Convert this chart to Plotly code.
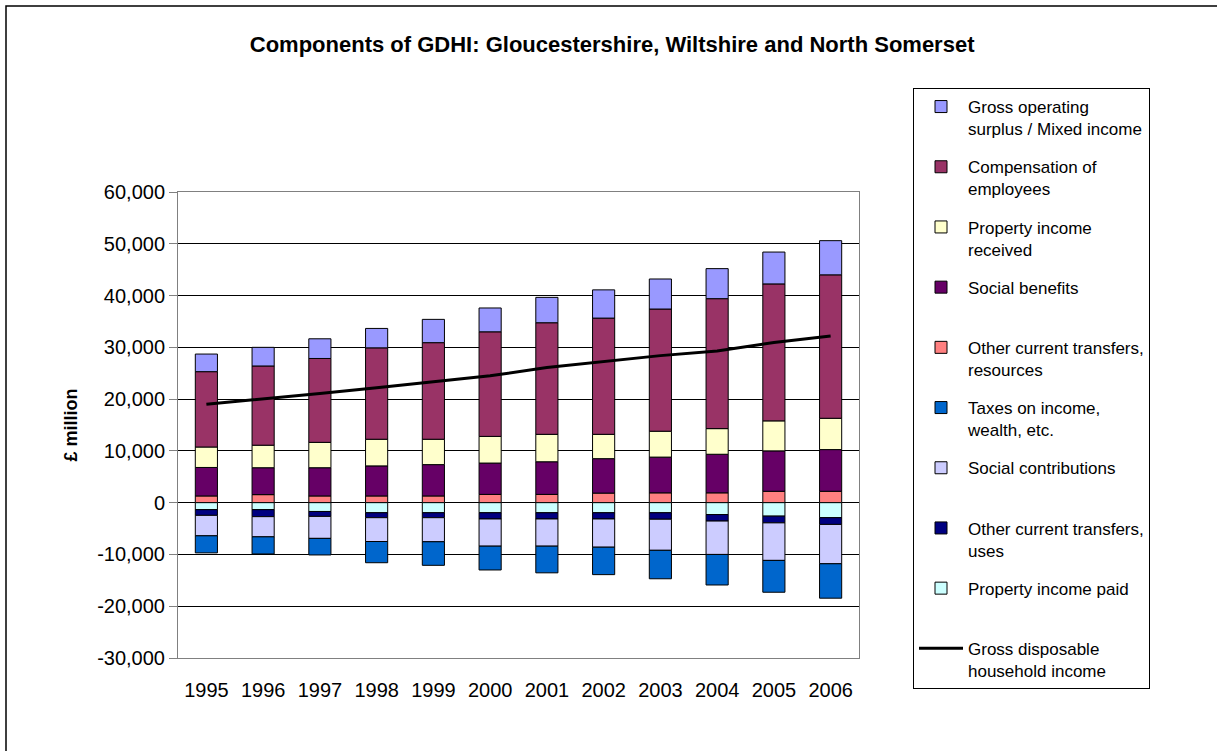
import plotly.graph_objects as go

years = [str(y) for y in range(1995, 2007)]

# resources (stacked upwards from zero)
other_transfers_res = [1300, 1550, 1300, 1300, 1300, 1600, 1600, 1850, 1900, 1900, 2200, 2200]
social_benefits = [5500, 5200, 5450, 5800, 6050, 6050, 6300, 6650, 6900, 7450, 7800, 8050]
property_income_rec = [3950, 4350, 4900, 5150, 4900, 5150, 5300, 4700, 5000, 4950, 5800, 6050]
compensation = [14550, 15300, 16200, 17650, 18650, 20200, 21550, 22450, 23600, 25100, 26450, 27700]
gross_operating = [3400, 3600, 3800, 3750, 4500, 4600, 4900, 5450, 5800, 5800, 6150, 6600]

# uses (stacked downwards from zero)
property_income_paid = [-1350, -1350, -1700, -1950, -1950, -1950, -1950, -1950, -1950, -2300, -2600, -2900]
other_transfers_uses = [-1100, -1350, -950, -950, -950, -1200, -1200, -1200, -1250, -1250, -1300, -1300]
social_contributions = [-3950, -3900, -4250, -4600, -4650, -5250, -5250, -5450, -6000, -6450, -7250, -7600]
taxes = [-3300, -3300, -3200, -4100, -4550, -4600, -5150, -5300, -5500, -5900, -6150, -6650]

gdhi = [19000, 20000, 21100, 22200, 23300, 24500, 26100, 27300, 28400, 29300, 30950, 32200]

y_ticks = list(range(-30000, 60001, 10000))

FONT = "Liberation Sans, Arial, sans-serif"

# (name, values, colour, legend rank) in stacking order
bar_series = [
    ("Other current transfers,<br>resources", other_transfers_res, "#FF8080", 5),
    ("Social benefits<br>&nbsp;", social_benefits, "#660066", 4),
    ("Property income<br>received", property_income_rec, "#FFFFCC", 3),
    ("Compensation of<br>employees", compensation, "#993366", 2),
    ("Gross operating<br>surplus / Mixed income", gross_operating, "#9999FF", 1),
    ("Property income paid<br>&nbsp;", property_income_paid, "#CCFFFF", 9),
    ("Other current transfers,<br>uses", other_transfers_uses, "#000080", 8),
    ("Social contributions<br>&nbsp;", social_contributions, "#CCCCFF", 7),
    ("Taxes on income,<br>wealth, etc.", taxes, "#0066CC", 6),
]

fig = go.Figure()
for name, vals, col, rank in bar_series:
    fig.add_trace(go.Bar(
        x=years, y=vals, name=name,
        marker=dict(color=col, line=dict(color="black", width=1)),
        legendrank=rank, legendgroup=name,
    ))

fig.add_trace(go.Scatter(
    x=years, y=gdhi, mode="lines", name="Gross disposable<br>household income",
    line=dict(color="black", width=3), legendrank=10, legendgroup="gdhi",
))

fig.update_layout(
    width=1217, height=751,
    margin=dict(l=178, r=358, t=192, b=93),
    paper_bgcolor="white", plot_bgcolor="white",
    font=dict(family=FONT, color="black", size=18),
    barmode="relative", bargap=0.61,
    title=dict(
        text="<b>Components of GDHI: Gloucestershire, Wiltshire and North Somerset</b>",
        x=0.503, xref="container", xanchor="center",
        y=1 - 44 / 751, yref="container", yanchor="middle",
        font=dict(size=22),
    ),
    xaxis=dict(
        type="category", showgrid=False, showline=True,
        linecolor="#808080", linewidth=1, mirror=True,
        ticks="outside", ticklen=14, tickcolor="rgba(0,0,0,0)",
        tickfont=dict(size=20),
    ),
    xaxis2=dict(
        type="category", overlaying="x", anchor="free", position=1 / 3,
        categoryarray=years, range=[-0.5, 11.5], showticklabels=False,
        showline=True, linecolor="black", linewidth=1,
        ticks="outside", tickson="boundaries", ticklen=5, tickcolor="black",
        showgrid=False, zeroline=False,
    ),
    yaxis=dict(
        range=[-30000, 60000], tickvals=y_ticks,
        ticktext=[f"{v:,}" for v in y_ticks],
        showgrid=True, gridcolor="black", gridwidth=1, zeroline=False,
        showline=True, linecolor="#808080", linewidth=1, mirror=True,
        ticks="outside", ticklen=8, tickcolor="#808080",
        tickfont=dict(size=20),
        title=dict(text="<b>£ million</b>", font=dict(size=18), standoff=14),
    ),
    legend=dict(
        x=(913 - 178) / 681, y=(658 - 88) / 466, xanchor="left", yanchor="top",
        bordercolor="black", borderwidth=1, bgcolor="white",
        font=dict(size=17), valign="top", tracegroupgap=13,
        traceorder="grouped", maxheight=700, itemwidth=44,
    ),
    shapes=[dict(
        type="rect", xref="paper", yref="paper",
        x0=(6 - 178) / 681, x1=1.7, y0=-0.5, y1=(658 - 6) / 466,
        line=dict(color="black", width=1.5),
    )],
)

fig.write_html(
    "out.html",
    config={"displayModeBar": False},
    post_script="document.body.style.margin='0';",
)
